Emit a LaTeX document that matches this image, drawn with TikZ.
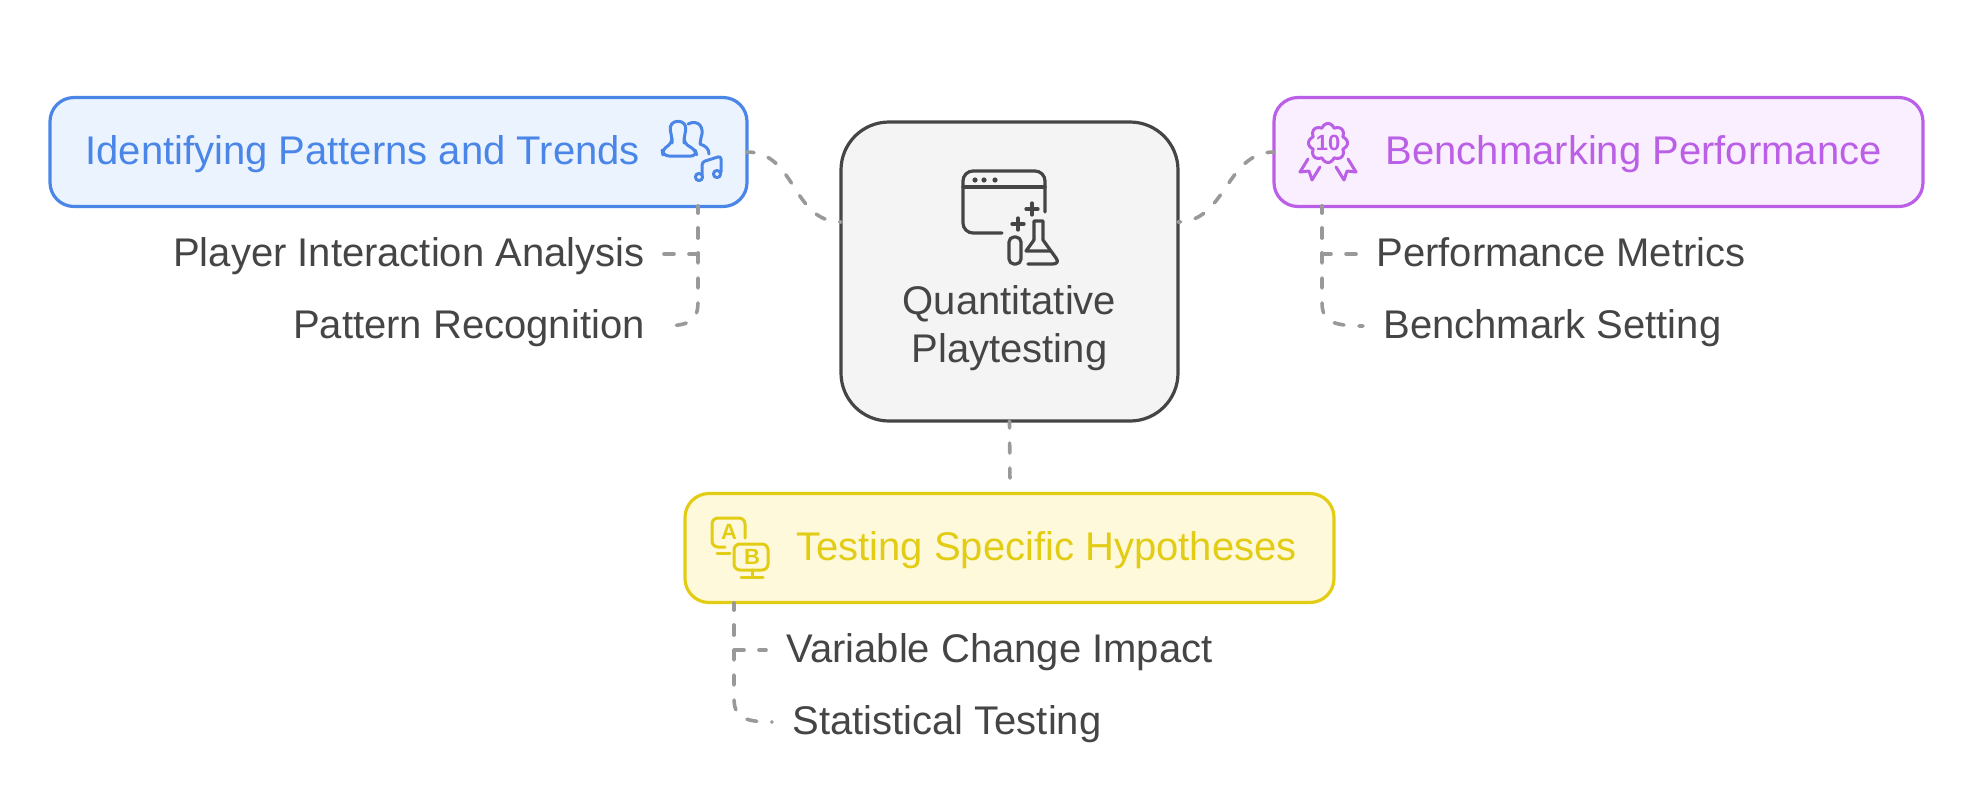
\documentclass[tikz,border=0pt]{standalone}
\usepackage{fontspec}
\setmainfont{Liberation Sans}
\definecolor{blau}{HTML}{4A86E8}
\definecolor{blaul}{HTML}{EBF3FF}
\definecolor{lila}{HTML}{BB5FE6}
\definecolor{lilal}{HTML}{FAEFFF}
\definecolor{gelb}{HTML}{E2CC14}
\definecolor{gelbl}{HTML}{FFF9DB}
\definecolor{grau}{HTML}{454545}
\definecolor{mittel}{HTML}{F4F4F4}
\definecolor{hgrau}{HTML}{999999}
\tikzset{
  kasten/.style={rounded corners=12pt,line width=1.6pt,inner sep=0pt,outer sep=0pt,minimum width=#1,minimum height=54.5pt},
  titel/.style={inner sep=0pt,text height=15pt,text depth=3pt,font=\fontsize{20}{24}\selectfont},
  teil/.style={grau,inner xsep=10pt,inner ysep=0pt,text height=15pt,text depth=3pt,font=\fontsize{20}{24}\selectfont},
  verb/.style={hgrau,line width=1.8pt,line cap=round,dash pattern=on 5pt off 7.5pt,dash phase=1.5pt},
  ikon/.style={line width=1.5pt,line cap=round,line join=round},
  zeichen/.style={inner sep=0pt,font=\fontsize{11}{11}\selectfont\bfseries},
}
\begin{document}
\begin{tikzpicture}[x=0.5pt,y=-0.5pt]
  \useasboundingbox (0,0) rectangle (1972,805);
  % Kaesten
  \node[kasten=348.5pt,draw=blau,fill=blaul] (ident) at (398.5,152) {};
  \node[kasten=324.5pt,draw=lila,fill=lilal] (bench) at (1598.5,152) {};
  \node[kasten=324.5pt,draw=gelb,fill=gelbl] (test) at (1009.5,548) {};
  \node[draw=grau,fill=mittel,rounded corners=24pt,line width=1.6pt,inner sep=0pt,outer sep=0pt,minimum width=168.5pt,minimum height=149.5pt] (mitte) at (1009.5,271.5) {};
  % Texte
  \node[titel,blau,anchor=west] (identtext) at (85,152) {Identifying Patterns and Trends};
  \node[titel,lila,anchor=east] (benchtext) at (1882,152) {Benchmarking Performance};
  \node[titel,gelb,anchor=east] (testtext) at (1297,548) {Testing Specific Hypotheses};
  \node[grau,inner sep=0pt,align=center,font=\fontsize{20}{24}\selectfont] (mittetext) at (1009.5,328) {Quantitative\\Playtesting};
  \node[teil,anchor=east,inner xsep=9pt] (player) at (663,254) {Player Interaction Analysis};
  \node[teil,anchor=east,inner xsep=9pt] (pattern) at (663,326) {Pattern Recognition};
  \node[teil,anchor=west] (metrics) at (1356,254) {Performance Metrics};
  \node[teil,anchor=west] (setting) at (1363,326) {Benchmark Setting};
  \node[teil,anchor=west] (impact) at (766,650) {Variable Change Impact};
  \node[teil,anchor=west] (stat) at (772,722) {Statistical Testing};
  % Anschlusspunkte
  \coordinate (mittelinks) at (841,222);
  \coordinate (mitterechts) at (1178,222);
  \coordinate (identfuss) at (698,206);
  \coordinate (benchfuss) at (1322,206);
  \coordinate (testfuss) at (734,603);
  \coordinate (testkopf) at (1010,484);
  % Verbindungen
  \draw[verb] (ident.east) .. controls (796,152) and (792,222) .. (mittelinks);
  \draw[verb] (bench.west) .. controls (1226,152) and (1226,222) .. (mitterechts);
  \draw[verb] (mitte.south) -- (testkopf);
  \draw[verb] (identfuss) -- (698,254) -- (player.east);
  \draw[verb] (identfuss) -- (698,302) .. controls (698,320) and (690,326) .. (pattern.east);
  \draw[verb] (benchfuss) -- (1322,254) -- (metrics.west);
  \draw[verb] (benchfuss) -- (1322,302) .. controls (1322,320) and (1330,326) .. (setting.west);
  \draw[verb] (testfuss) -- (734,650) -- (impact.west);
  \draw[verb] (testfuss) -- (734,698) .. controls (734,716) and (742,722) .. (stat.west);
  % Fenster und Kolben
  \draw[ikon,grau,line width=1.6pt,rounded corners=5pt] (1002,233) -- (963,233) -- (963,171) -- (1045,171) -- (1045,212);
  \draw[ikon,grau,line width=1.6pt] (963,187) -- (1045,187);
  \foreach \x in {975,984,995} \fill[grau] (\x,180) circle (1.3pt);
  \draw[ikon,grau,line width=1.6pt] (1026,209) -- (1038,209) (1032,203) -- (1032,215);
  \draw[ikon,grau,line width=1.6pt] (1012,224) -- (1024,224) (1018,218) -- (1018,230);
  \draw[ikon,grau,line width=1.6pt,rounded corners=2.5pt] (1009,237) -- (1021,237) -- (1021,264) -- (1009,264) -- cycle;
  \draw[ikon,grau,line width=1.6pt] (1034,240) -- (1034,221) -- (1043,221) -- (1043,240) -- (1056,258) .. controls (1059,262) and (1057,264) .. (1052,264) -- (1028,264);
  \draw[ikon,grau,line width=1.6pt] (1034,240) -- (1026,251) -- (1050,251);
  % Personen und Noten
  \draw[ikon,blau,rounded corners=3pt] (663,156) -- (697,156) -- (695,149) -- (684,144) -- (684,137) .. controls (689,118) and (667,118) .. (672,137) -- (672,144) -- (662,149) -- cycle;
  \draw[ikon,blau] (688,124) .. controls (698,119) and (705,127) .. (701,138) -- (700,144) .. controls (706,146) and (709,149) .. (709,154);
  \draw[ikon,blau] (699,177) circle (3.6) (717,174) circle (3.6);
  \draw[ikon,blau,rounded corners=1.5pt] (702,175) -- (702,162) -- (721,156) -- (721,172);
  % Rosette
  \draw[ikon,lila] plot[samples=97,domain=0:360,variable=\w] ({1328+(16+3.5*abs(cos(4*\w)))*cos(\w)},{143+(16+3.5*abs(cos(4*\w)))*sin(\w)}) -- cycle;
  \node[zeichen,lila] (rosette) at (1328,143) {10};
  \draw[ikon,lila] (1308,159) -- (1300,172) -- (1309,171) -- (1312,180) -- (1320,167);
  \draw[ikon,lila] (1348,159) -- (1356,172) -- (1347,171) -- (1344,180) -- (1336,167);
  % Monitore
  \draw[ikon,gelb,rounded corners=3pt] (725,547) -- (712,547) -- (712,518) -- (745,518) -- (745,538);
  \draw[ikon,gelb] (717,553) -- (730,553);
  \draw[ikon,gelb,rounded corners=3pt] (734,544) rectangle (768,570);
  \draw[ikon,gelb] (752,570) -- (752,577) (741,577) -- (763,577);
  \node[zeichen,gelb] (abild) at (729,532) {A};
  \node[zeichen,gelb] (bbild) at (752,557) {B};
\end{tikzpicture}
\end{document}
